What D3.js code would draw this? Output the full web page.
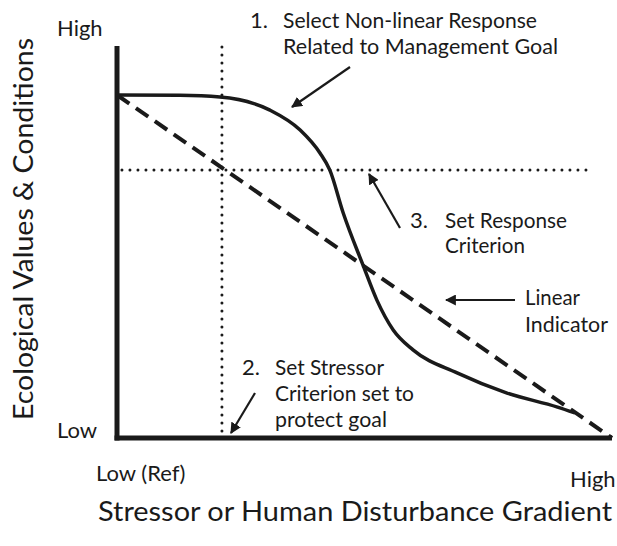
<!DOCTYPE html>
<html>
<head>
<meta charset="utf-8">
<script src="https://cdn.jsdelivr.net/npm/d3@7"></script>
<style>
  body { margin: 0; background: #fff; }
  text { font-family: Lato, "Open Sans", sans-serif; fill: #1a1a1a; }
</style>
</head>
<body>
<div id="chart"></div>
<script>
// stressor gradient (0 = reference, 100 = high) vs ecological condition (0 = low, 100 = high)
const responseX = [0, 12.7, 20.8, 30.9, 37, 41, 43, 45.7, 49.7, 52.5, 55.8, 59.8, 68.7, 78.8, 89, 92.5];
const responseY = [100, 99.9, 99.4, 95.6, 89.8, 83.1, 78.1, 65.6, 50.4, 40.2, 31.5, 25.7, 19, 13.1, 9, 7.3];
const linearX = [0, 100];
const linearY = [100, 0];
const stressorCriterion = 21.2;
const responseCriterion = 78.1;
const axisTicks = ["Low", "High"];
const xTickLabels = ["Low (Ref)", "High"];

const width = 617, height = 546;

const x = d3.scaleLinear().domain([0, 100]).range([117, 612]);
const y = d3.scaleLinear().domain([0, 100]).range([438, 95]);

const svg = d3.select("#chart").append("svg")
    .attr("width", width)
    .attr("height", height);

let defs = svg.append("defs");
defs.append("marker")
    .attr("id", "head")
    .attr("viewBox", "0 0 10 10")
    .attr("refX", 9).attr("refY", 5)
    .attr("markerWidth", 5).attr("markerHeight", 5)
    .attr("markerUnits", "strokeWidth")
    .attr("orient", "auto")
    .append("path").attr("d", "M0,0L10,5L0,10z").attr("fill", "#1a1a1a");

// criterion dotted lines
svg.append("line")
    .attr("x1", x(stressorCriterion)).attr("x2", x(stressorCriterion))
    .attr("y1", y(114)).attr("y2", y(1.7))
    .attr("stroke", "#1a1a1a").attr("stroke-width", 3)
    .attr("stroke-linecap", "round").attr("stroke-dasharray", "0 8");

svg.append("line")
    .attr("x1", x(1)).attr("x2", x(95.2))
    .attr("y1", y(responseCriterion)).attr("y2", y(responseCriterion))
    .attr("stroke", "#1a1a1a").attr("stroke-width", 3)
    .attr("stroke-linecap", "round").attr("stroke-dasharray", "0 8");

// linear indicator
const line = d3.line().x(d => x(d[0])).y(d => y(d[1]));
svg.append("path")
    .datum(d3.zip(linearX, linearY))
    .attr("d", line)
    .attr("fill", "none")
    .attr("stroke", "#1a1a1a").attr("stroke-width", 4)
    .attr("stroke-dasharray", "15 8");

// non-linear response
svg.append("path")
    .datum(d3.zip(responseX, responseY))
    .attr("d", line.curve(d3.curveMonotoneX))
    .attr("fill", "none")
    .attr("stroke", "#1a1a1a").attr("stroke-width", 3.5);

// axes
svg.append("line")
    .attr("x1", x(0)).attr("x2", x(0))
    .attr("y1", y(114.3)).attr("y2", y(-0.7))
    .attr("stroke", "#1a1a1a").attr("stroke-width", 5);
svg.append("line")
    .attr("x1", x(-0.5)).attr("x2", x(100))
    .attr("y1", y(0)).attr("y2", y(0))
    .attr("stroke", "#1a1a1a").attr("stroke-width", 5);

// axis end labels
svg.append("text").attr("x", 57).attr("y", 36).attr("font-size", 22).text(axisTicks[1]);
svg.append("text").attr("x", 57).attr("y", 438).attr("font-size", 22).text(axisTicks[0]);
svg.append("text").attr("x", 96).attr("y", 481).attr("font-size", 22).text(xTickLabels[0]);
svg.append("text").attr("x", 570).attr("y", 487).attr("font-size", 22).text(xTickLabels[1]);

// axis titles
svg.append("text")
    .attr("x", 355).attr("y", 521)
    .attr("text-anchor", "middle")
    .attr("font-size", 27)
    .attr("textLength", 514).attr("lengthAdjust", "spacingAndGlyphs")
    .text("Stressor or Human Disturbance Gradient");

svg.append("text")
    .attr("transform", "translate(33,229) rotate(-90)")
    .attr("text-anchor", "middle")
    .attr("font-size", 27)
    .attr("textLength", 382).attr("lengthAdjust", "spacingAndGlyphs")
    .text("Ecological Values & Conditions");

// annotations: number, lines, position
const notes = [
    {num: "1.", lines: ["Select Non-linear Response", "Related to Management Goal"], nx: 250, tx: 283, y: 28, dy: 26, w: [254, 275]},
    {num: "3.", lines: ["Set Response", "Criterion"], nx: 410, tx: 445, y: 228, dy: 25, w: [122, 80]},
    {num: "", lines: ["Linear", "Indicator"], nx: 0, tx: 525, y: 305, dy: 27, w: [55, 83]},
    {num: "2.", lines: ["Set Stressor", "Criterion set to", "protect goal"], nx: 242, tx: 275, y: 375, dy: 26, w: [109, 139, 112]}
];

notes.forEach(n => {
    let g = svg.append("g");
    if (n.num) {
        g.append("text").attr("x", n.nx).attr("y", n.y).attr("font-size", 22).text(n.num);
    }
    n.lines.forEach((t, i) => {
        g.append("text")
            .attr("x", n.tx).attr("y", n.y + i * n.dy)
            .attr("font-size", 22)
            .attr("textLength", n.w[i]).attr("lengthAdjust", "spacingAndGlyphs")
            .text(t);
    });
});

// pointer arrows
const arrows = [
    [350, 67, 292, 107],
    [400, 228, 369, 174],
    [515, 300, 446, 300],
    [255, 393, 231, 433]
];
svg.selectAll(".arrow")
    .data(arrows)
    .enter().append("line")
    .attr("class", "arrow")
    .attr("x1", d => d[0]).attr("y1", d => d[1])
    .attr("x2", d => d[2]).attr("y2", d => d[3])
    .attr("stroke", "#1a1a1a").attr("stroke-width", 2.2)
    .attr("marker-end", "url(#head)");
</script>
</body>
</html>
